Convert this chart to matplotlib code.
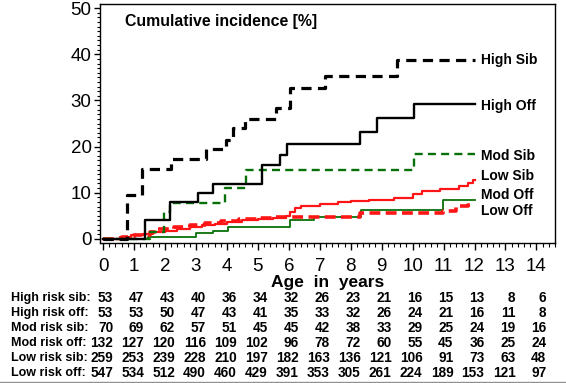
import numpy as np
import matplotlib
matplotlib.use('Agg')
import matplotlib.pyplot as plt
from matplotlib.ticker import MultipleLocator
from matplotlib.transforms import blended_transform_factory

plt.rcParams['font.family'] = ['Liberation Sans', 'DejaVu Sans']

# step curves: (time in years, cumulative incidence %)
high_sib_t = [0, 0.76, 1.27, 2.18, 3.32, 3.97, 4.2, 4.58, 5.58, 6.04, 7.16, 9.5, 12]
high_sib_v = [0, 9.5, 15.2, 17.2, 19.4, 21.4, 24.0, 26.0, 28.3, 32.6, 35.3, 38.7, 38.7]

high_off_t = [0, 1.35, 2.16, 3.07, 3.54, 5.13, 5.71, 5.95, 8.3, 8.84, 10.06, 12]
high_off_v = [0, 4.0, 7.9, 10.0, 11.8, 16.0, 18.2, 20.6, 23.1, 26.2, 29.2, 29.2]

mod_sib_t = [0, 1.52, 1.98, 2.16, 3.94, 4.63, 10.06, 12]
mod_sib_v = [0, 1.5, 5.9, 7.8, 11.0, 15.0, 18.3, 18.3]

low_sib_t = [0, 0.55, 0.9, 1.3, 1.6, 2.0, 2.4, 2.8, 3.2, 3.6, 4.0, 4.5, 5.0, 5.5, 5.9,
             6.05, 6.2, 6.4, 7.0, 7.6, 8.0, 8.6, 9.4, 10.0, 10.3, 10.9, 11.5, 11.8, 11.95, 12]
low_sib_v = [0, 0.4, 0.8, 1.1, 1.4, 1.8, 2.2, 2.6, 3.0, 3.3, 3.7, 4.0, 4.3, 4.6, 5.0,
             5.8, 6.6, 7.2, 7.5, 7.9, 8.2, 8.5, 8.9, 9.8, 10.3, 10.8, 11.4, 12.2, 12.8, 12.8]

mod_off_t = [0, 1.45, 3.0, 3.55, 4.03, 6.03, 6.8, 8.34, 10.97, 12]
mod_off_v = [0, 0.4, 1.2, 1.7, 2.6, 4.0, 4.7, 6.3, 8.4, 8.4]

low_off_t = [0, 0.6, 1.0, 1.5, 1.75, 2.3, 2.8, 3.3, 3.8, 4.4, 5.0, 5.6, 8.3, 10.97, 11.4, 11.8, 12]
low_off_v = [0, 0.3, 0.8, 1.5, 2.2, 2.6, 3.0, 3.5, 3.9, 4.2, 4.5, 4.7, 5.5, 6.1, 7.2, 7.4, 7.4]

# numbers at risk
years = list(range(15))
risk_labels = ['High risk sib:', 'High risk off:', 'Mod risk sib:',
               'Mod risk off:', 'Low risk sib:', 'Low risk off:']
high_sib_n = [53, 47, 43, 40, 36, 34, 32, 26, 23, 21, 16, 15, 13, 8, 6]
high_off_n = [53, 53, 50, 47, 43, 41, 35, 33, 32, 26, 24, 21, 16, 11, 8]
mod_sib_n = [70, 69, 62, 57, 51, 45, 45, 42, 38, 33, 29, 25, 24, 19, 16]
mod_off_n = [132, 127, 120, 116, 109, 102, 96, 78, 72, 60, 55, 45, 36, 25, 24]
low_sib_n = [259, 253, 239, 228, 210, 197, 182, 163, 136, 121, 106, 91, 73, 63, 48]
low_off_n = [547, 534, 512, 490, 460, 429, 391, 353, 305, 261, 224, 189, 153, 121, 97]

green = '#087008'
red = '#ff1515'

fig = plt.figure(figsize=(5.66, 3.83), dpi=100)
ax = fig.add_axes([100 / 566, 1 - 243 / 383, 455 / 566, 239 / 383])

ax.step(mod_off_t, mod_off_v, where='post', color=green, lw=1.3)
ax.step(low_off_t, low_off_v, where='post', color=red, lw=2.6, dashes=(3.0, 1.5))
ax.step(low_sib_t, low_sib_v, where='post', color=red, lw=1.6)
ax.step(mod_sib_t, mod_sib_v, where='post', color=green, lw=1.7, dashes=(3.4, 2.2))
ax.step(high_off_t, high_off_v, where='post', color='black', lw=1.7)
ax.step(high_sib_t, high_sib_v, where='post', color='black', lw=2.3, dashes=(3.2, 2.0))

# curve labels at the right
for name, y in [('High Sib', 38.7), ('High Off', 28.8), ('Mod Sib', 18.0),
                ('Low Sib', 13.6), ('Mod Off', 9.5), ('Low Off', 6.1)]:
    ax.text(12.2, y, name, fontsize=10, fontweight='bold', ha='left', va='center')

ax.text(0.055, 0.925, 'Cumulative incidence [%]', transform=ax.transAxes,
        fontsize=11.4, fontweight='bold', ha='left', va='center')

ax.set_xlim(-0.1, 14.6)
ax.set_ylim(-0.9, 50.9)
ax.set_xticks(years)
ax.set_yticks(np.arange(0, 51, 10))
ax.xaxis.set_minor_locator(MultipleLocator(0.2))
ax.yaxis.set_minor_locator(MultipleLocator(1))
ax.tick_params(axis='x', which='major', length=5, width=1, pad=6, labelsize=13.5)
ax.tick_params(axis='x', which='minor', length=3, width=0.8)
ax.tick_params(axis='y', which='major', length=4, width=1, pad=2, labelsize=13.5)
ax.tick_params(axis='y', which='minor', length=2.5, width=0.8)
for s in ax.spines.values():
    s.set_linewidth(1.0)

ax.set_xlabel('Age  in  years', fontsize=12.5, fontweight='bold', labelpad=0)

# numbers-at-risk table
tr = blended_transform_factory(ax.transData, fig.transFigure)
rows = [high_sib_n, high_off_n, mod_sib_n, mod_off_n, low_sib_n, low_off_n]
for i, (lab, counts) in enumerate(zip(risk_labels, rows)):
    yy = 1 - (298 + 15.0 * i) / 383
    fig.text(11 / 566, yy, lab, fontsize=9, fontweight='bold', ha='left', va='center')
    for t, n in zip(years, counts):
        ax.text(t + 0.32, yy, str(n), transform=tr, fontsize=9.8, fontweight='bold',
                ha='right', va='center', clip_on=False)

fig.add_artist(plt.Line2D([0, 1], [1.0 / 383, 1.0 / 383], color='#909090', lw=1.0))

fig.savefig('out.png', dpi=100)
